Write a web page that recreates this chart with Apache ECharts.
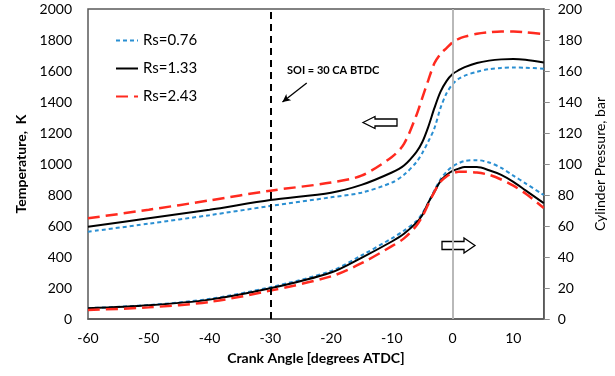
<!DOCTYPE html>
<html>
<head>
<meta charset="utf-8">
<script src="https://cdn.jsdelivr.net/npm/echarts@6/dist/echarts.min.js"></script>
<style>
  html, body { margin: 0; padding: 0; background: #fff; }
  #chart { width: 615px; height: 376px; }
</style>
</head>
<body>
<div id="chart"></div>
<script>
// crank angle, degrees ATDC
var crankAngle = [-60, -50, -40, -30, -20, -15, -10, -8, -6, -5, -4, -3, -2, -1, 0, 1, 2, 4, 6, 8, 10, 12, 15];

// temperature, K (left axis)
var tempRs076 = [563, 615, 670, 729, 785, 815, 880, 930, 1010, 1070, 1145, 1230, 1360, 1456, 1515, 1550, 1570, 1595, 1612, 1620, 1623, 1621, 1615];
var tempRs133 = [595, 650, 705, 768, 815, 865, 945, 990, 1075, 1140, 1240, 1360, 1465, 1535, 1580, 1605, 1625, 1652, 1667, 1675, 1677, 1672, 1655];
var tempRs243 = [650, 705, 765, 828, 880, 925, 1045, 1130, 1310, 1425, 1540, 1650, 1710, 1748, 1785, 1808, 1822, 1840, 1850, 1855, 1855, 1850, 1838];

// cylinder pressure, bar (right axis)
var presRs076 = [7, 9, 13, 20.5, 31, 41, 52, 57, 63, 68, 75, 83, 90, 95, 98.5, 100.5, 102, 102.5, 101, 97.5, 92.5, 87.5, 80];
var presRs133 = [6.9, 8.8, 12.5, 19.8, 30, 39.5, 50, 55, 62, 67, 75, 82, 89, 92.9, 95.5, 97, 98, 98, 96, 93, 88.5, 83, 74.8];
var presRs243 = [5.8, 7.5, 11, 18.3, 27.5, 36, 47, 52, 60, 66, 74, 82, 88.5, 92, 94, 95, 95, 94.5, 93, 90, 86, 81, 71.6];

var seriesNames = ['Rs=0.76', 'Rs=1.33', 'Rs=2.43'];
var seriesColors = ['#2a8fd2', '#000000', '#ff2a1f'];
var seriesDash = [[4, 3], 'solid', [12, 6]];
var seriesWidth = [2, 2, 2.5];

var soiAngle = -30;
var font = 'Lato, "Open Sans", sans-serif';

function pairs(ys) {
    return crankAngle.map(function (x, i) { return [x, ys[i]]; });
}

function line(idx, ys, axis) {
    return {
        name: seriesNames[idx],
        type: 'line',
        yAxisIndex: axis,
        data: pairs(ys),
        smooth: 0.3,
        symbol: 'none',
        showSymbol: false,
        lineStyle: { color: seriesColors[idx], width: seriesWidth[idx], type: seriesDash[idx] },
        itemStyle: { color: seriesColors[idx] },
        z: 3
    };
}

var series = [
    line(0, tempRs076, 0),
    line(1, tempRs133, 0),
    line(2, tempRs243, 0),
    line(0, presRs076, 1),
    line(1, presRs133, 1),
    line(2, presRs243, 1)
];

// reference lines and the SOI pointer
series.push({
    name: 'refs',
    type: 'line',
    data: [],
    markLine: {
        silent: true,
        symbol: 'none',
        animation: false,
        label: { show: false },
        data: [
            { xAxis: 0, lineStyle: { color: '#cccccc', width: 1.5, type: 'solid' } },
            { xAxis: soiAngle, lineStyle: { color: '#000', width: 2, type: [7, 5] } },
            [
                { coord: [-24, 1523], symbol: 'none' },
                { coord: [-28, 1400], symbol: 'arrow', symbolSize: [6, 8] }
            ]
        ],
        lineStyle: { color: '#000', width: 1.3, type: 'solid' }
    },
    z: 2
});

function plain(v) { return String(v); }

var chart = echarts.init(document.getElementById('chart'));
chart.setOption({
    animation: false,
    textStyle: { fontFamily: font },
    grid: { left: 88, right: 71, top: 9, bottom: 57, show: true, borderColor: '#595959', borderWidth: 1.5 },
    legend: {
        data: seriesNames,
        orient: 'vertical',
        left: 110,
        top: 28,
        itemWidth: 22,
        itemHeight: 14,
        itemGap: 13,
        itemStyle: { opacity: 0 },
        textStyle: { fontSize: 15, color: '#000', fontFamily: font }
    },
    xAxis: {
        type: 'value',
        min: -60,
        max: 15,
        interval: 10,
        name: 'Crank Angle [degrees ATDC]',
        nameLocation: 'middle',
        nameGap: 32,
        nameTextStyle: { fontSize: 14, fontWeight: 'bold', color: '#000' },
        axisLine: { lineStyle: { color: '#595959', width: 1.5 } },
        axisTick: { show: false },
        splitLine: { show: false },
        axisLabel: { fontSize: 14, color: '#000', margin: 12, showMaxLabel: false, formatter: plain }
    },
    yAxis: [{
        type: 'value',
        min: 0,
        max: 2000,
        interval: 200,
        name: 'Temperature,  K',
        nameLocation: 'middle',
        nameRotate: 90,
        nameGap: 60,
        nameTextStyle: { fontSize: 14, fontWeight: 'bold', color: '#000' },
        axisLine: { show: true, lineStyle: { color: '#595959', width: 1.5 } },
        axisTick: { show: false },
        splitLine: { show: false },
        axisLabel: { fontSize: 14, color: '#000', margin: 16, formatter: plain }
    }, {
        type: 'value',
        min: 0,
        max: 200,
        interval: 20,
        position: 'right',
        name: 'Cylinder Pressure, bar',
        nameLocation: 'middle',
        nameRotate: 90,
        nameGap: 47,
        nameTextStyle: { fontSize: 14, color: '#000' },
        axisLine: { show: true, lineStyle: { color: '#595959', width: 1.5 } },
        axisTick: { show: true, length: 6, lineStyle: { color: '#8c8c8c' } },
        splitLine: { show: false },
        axisLabel: { fontSize: 14, color: '#000', margin: 14, formatter: plain }
    }],
    series: series,
    graphic: [
        {
            type: 'text',
            left: 287,
            top: 65,
            style: { text: 'SOI = 30 CA BTDC', font: 'bold 11px ' + font, fill: '#000' }
        },
        {
            // hollow arrow pointing to the temperature axis
            type: 'polygon',
            shape: { points: [[363, 122.5], [375, 116.5], [375, 119], [397, 119], [397, 126], [375, 126], [375, 128.5]] },
            style: { fill: '#fff', stroke: '#000', lineWidth: 1.3 }
        },
        {
            // hollow arrow pointing to the pressure axis
            type: 'polygon',
            shape: { points: [[475, 245.5], [464, 238], [464, 241.5], [442, 241.5], [442, 249.5], [464, 249.5], [464, 253]] },
            style: { fill: '#fff', stroke: '#000', lineWidth: 1.3 }
        }
    ]
});
</script>
</body>
</html>
